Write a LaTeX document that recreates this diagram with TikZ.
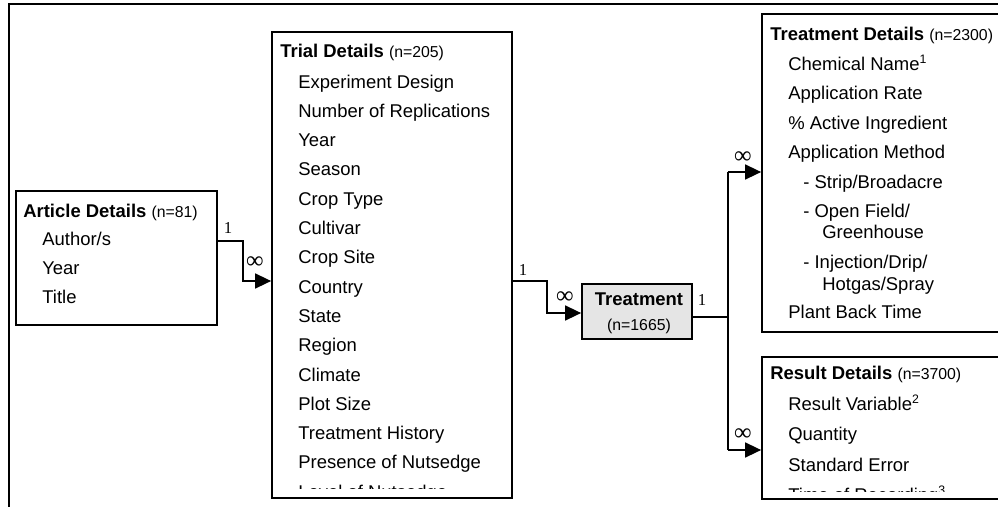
\documentclass[tikz,border=0pt]{standalone}
\usepackage{fontspec}
\setmainfont{Liberation Sans}
\newfontfamily\timesf{Liberation Serif}
\usepackage{tikz}
\usetikzlibrary{arrows.meta}
\usetikzlibrary{fit}
\tikzset{
  box/.style={draw, line width=1pt, inner sep=0pt},
  item/.style={anchor=base west, inner sep=0pt, font=\fontsize{10.5}{12}\selectfont},
  head/.style={anchor=base west, inner sep=0pt, font=\fontsize{10.5}{12}\selectfont\bfseries},
  conn/.style={line width=0.9pt, -{Triangle[length=3.2mm,width=3mm]}},
  mult/.style={inner sep=0pt, font=\fontsize{9.5}{11}\timesf},
  many/.style={inner sep=0pt, font=\fontsize{14}{14}\timesf},
}
\newcommand{\nsize}[1]{{\fontsize{9}{11}\selectfont\mdseries #1}}

\begin{document}
\begin{tikzpicture}[x=0.2mm, y=-0.2mm]
\clip (0,0) rectangle (998,507);

%outer frame
\draw[line width=0.8pt] (9,510) |- (1000,4);

%article
\node[box, fit={(16,191) (217,325)}] (art) {};
\node[head] at (23,217) {Article Details \nsize{(n=81)}};
\foreach \t [count=\i from 0] in {Author/s, Year, Title} {
  \node[item] at (42,245+29*\i) {\t};
}

%trial
\node[box, fit={(272,32) (512,498)}] (trial) {};
\node[head] at (280,57) {Trial Details \nsize{(n=205)}};
\begin{scope}
\clip (272,32) rectangle (512,488.5);
\foreach \t [count=\i from 0] in {Experiment Design, Number of Replications, Year, Season,
  Crop Type, Cultivar, Crop Site, Country, State, Region, Climate, Plot Size,
  Treatment History, Presence of Nutsedge, Level of Nutsedge} {
  \node[item] at (298,88+29.3*\i) {\t};
}
\end{scope}

%treatment
\node[box, fill=gray!20, fit={(582,284) (692,339)}] (treat) {};
\node[inner sep=0pt, anchor=base, font=\fontsize{10.5}{12}\selectfont\bfseries] at (639,305) {Treatment};
\node[inner sep=0pt, anchor=base, font=\fontsize{9}{11}\selectfont] at (639,330) {(n=1665)};

%treatment details
\node[box, fit={(762,14) (1010,332)}] (tdet) {};
\node[head] at (770,40) {Treatment Details \nsize{(n=2300)}};
\node[item] at (788,70) {Chemical Name\textsuperscript{\scriptsize 1}};
\node[item] at (788,99.5) {Application Rate};
\node[item] at (788,129) {\% Active Ingredient};
\node[item] at (788,158) {Application Method};
\node[item] at (803,188) {- Strip/Broadacre};
\node[item] at (803,217) {- Open Field/};
\node[item] at (822,238) {Greenhouse};
\node[item] at (803,268) {- Injection/Drip/};
\node[item] at (822,290) {Hotgas/Spray};
\node[item] at (788,318) {Plant Back Time};

%result details
\node[box, fit={(762,357) (1010,499)}] (rdet) {};
\node[head] at (770,379) {Result Details \nsize{(n=3700)}};
\begin{scope}
\clip (762,357) rectangle (1010,491);
\foreach \t [count=\i from 0] in {Result Variable\textsuperscript{\scriptsize 2}, Quantity,
  Standard Error, Time of Recording\textsuperscript{\scriptsize 3}} {
  \node[item] at (788,410+30.5*\i) {\t};
}
\end{scope}

%links
\draw[conn] (art.east |- 0,241) -- ++(25,0) |- (trial.west |- 0,281);
\draw[conn] (trial.east |- 0,281) -- ++(34,0) |- (treat.west |- 0,313);
\draw[line width=0.9pt] (treat.east |- 0,317) -- ++(35,0) coordinate (split);
\draw[conn] (split |- 0,172) |- (tdet.west |- 0,172);
\draw[line width=0.9pt] (split |- 0,172) -- (split |- 0,450);
\draw[conn] (split |- 0,450) -- (rdet.west |- 0,450);

%multiplicities
\node[mult] at (228,228) {1};
\node[many] at (255,263) {∞};
\node[mult] at (523,270) {1};
\node[many] at (565,298) {∞};
\node[mult] at (702,300) {1};
\node[many] at (743,158) {∞};
\node[many] at (743,435) {∞};

\end{tikzpicture}
\end{document}
